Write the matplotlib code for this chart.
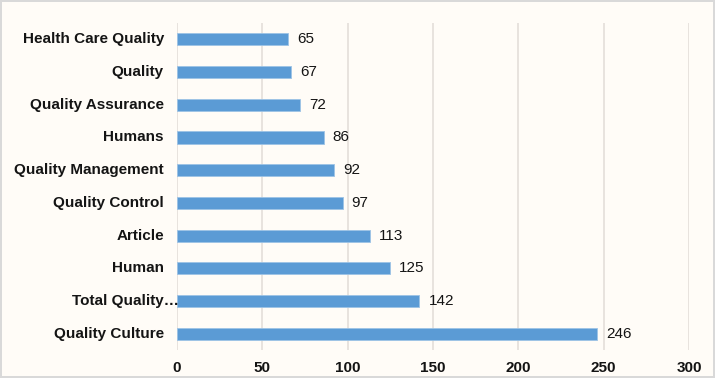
import matplotlib
matplotlib.use("Agg")
import matplotlib.pyplot as plt
from matplotlib.transforms import blended_transform_factory

categories = ["Health Care Quality", "Quality", "Quality Assurance", "Humans",
              "Quality Management", "Quality Control", "Article", "Human",
              "Total Quality\u2026", "Quality Culture"]
values = [65, 67, 72, 86, 92, 97, 113, 125, 142, 246]
xticks = [0, 50, 100, 150, 200, 250, 300]

plt.rcParams['font.family'] = ['Liberation Sans', 'DejaVu Sans']
bg = '#FFFCF7'
fig = plt.figure(figsize=(7.15, 3.78), dpi=100, facecolor=bg,
                 edgecolor='#D9D9D9', linewidth=1.5)
ax = fig.add_axes([0.2476, 0.074, 0.7160, 0.865])
ax.set_facecolor(bg)

ypos = list(range(len(categories)))
bars = ax.barh(ypos, values, height=0.37, color='#5B9BD5',
               edgecolor='#9DC3E6', linewidth=0.6, zorder=3)
ax.set_ylim(len(categories) - 0.5, -0.5)
ax.set_xlim(0, 300)
ax.set_xticks(xticks)
ax.set_xticklabels([str(t) for t in xticks], fontsize=11, fontweight='bold',
                   color='#141414')
ax.tick_params(axis='x', length=0, pad=8)
ax.set_yticks([])
ax.grid(axis='x', color='#E4DFD9', linewidth=1.2, zorder=0)
for s in ax.spines.values():
    s.set_visible(False)

trans = blended_transform_factory(fig.transFigure, ax.transData)
for i, c in enumerate(categories):
    xr = 179 / 715 if c.endswith('\u2026') else 164 / 715
    ax.text(xr, i, c, transform=trans, ha='right', va='center', fontsize=11,
            fontweight='bold', color='#141414')

for i, v in enumerate(values):
    ax.annotate(str(v), (v, i), xytext=(6.5, 0), textcoords='offset points',
                ha='left', va='center', fontsize=11, color='#141414')

fig.savefig('out.png', dpi=100, facecolor=bg, edgecolor='#D9D9D9')
